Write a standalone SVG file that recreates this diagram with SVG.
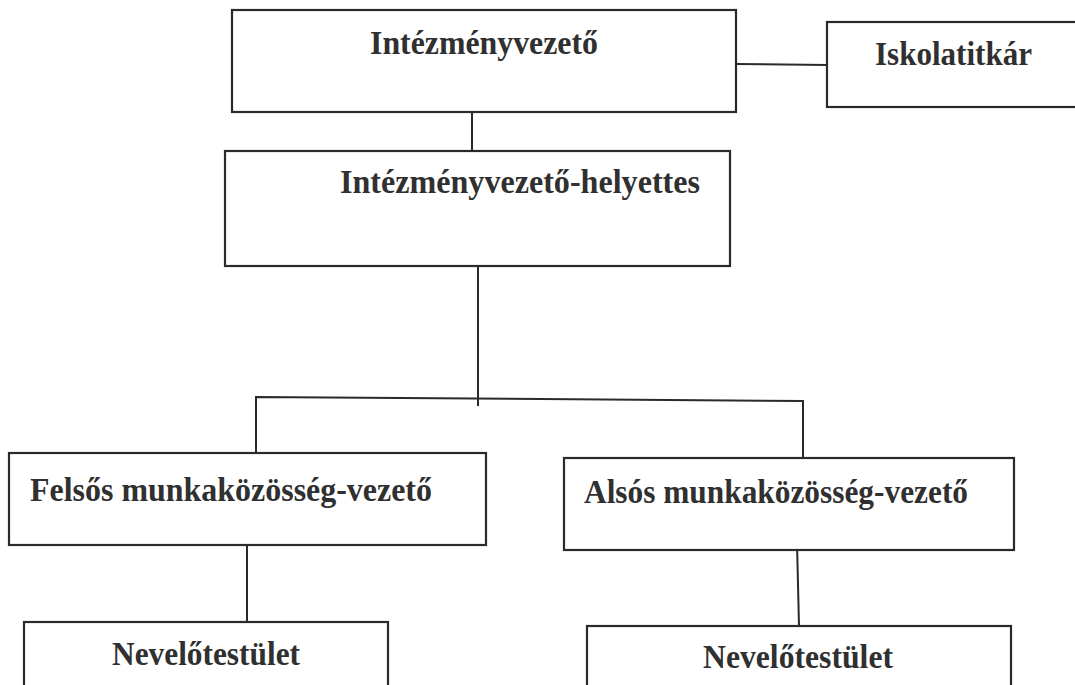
<svg xmlns="http://www.w3.org/2000/svg" width="1075" height="685" viewBox="0 0 1075 685">
<style>
.box{fill:#fff;stroke:#2a2a2a;stroke-width:2.2}
.ln{fill:none;stroke:#2a2a2a;stroke-width:2}
text{font-family:'Liberation Serif','Times New Roman',serif;font-weight:bold;font-size:33px;fill:#303030}
</style>
<rect width="1075" height="685" fill="#fff"/>
<g id="connectors">
<line class="ln" x1="472" y1="112" x2="472" y2="152"/>
<line class="ln" x1="736" y1="64" x2="828" y2="65"/>
<line class="ln" x1="478" y1="266" x2="478" y2="406"/>
<polyline class="ln" points="256,454 256,397 803,401 803,458"/>
<line class="ln" x1="247" y1="545" x2="247" y2="622"/>
<line class="ln" x1="797" y1="543" x2="799" y2="626"/>
</g>
<g id="n1"><rect class="box" x="232" y="10" width="504" height="102"/><text x="370" y="54" textLength="228" lengthAdjust="spacingAndGlyphs">Intézményvezető</text></g>
<g id="n2"><rect class="box" x="827" y="22" width="260" height="85"/><text x="875" y="65" textLength="157" lengthAdjust="spacingAndGlyphs">Iskolatitkár</text></g>
<g id="n3"><rect class="box" x="225" y="151" width="505" height="115"/><text x="340" y="193" textLength="360" lengthAdjust="spacingAndGlyphs">Intézményvezető-helyettes</text></g>
<g id="n4"><rect class="box" x="9" y="453" width="477" height="92"/><text x="30" y="501" textLength="402" lengthAdjust="spacingAndGlyphs">Felsős munkaközösség-vezető</text></g>
<g id="n5"><rect class="box" x="564" y="458" width="450" height="92"/><text x="584" y="503" textLength="384" lengthAdjust="spacingAndGlyphs">Alsós munkaközösség-vezető</text></g>
<g id="n6"><rect class="box" x="24" y="622" width="364" height="80"/><text x="112" y="665" textLength="188" lengthAdjust="spacingAndGlyphs">Nevelőtestület</text></g>
<g id="n7"><rect class="box" x="587" y="626" width="424" height="80"/><text x="703" y="668" textLength="190" lengthAdjust="spacingAndGlyphs">Nevelőtestület</text></g>
</svg>
